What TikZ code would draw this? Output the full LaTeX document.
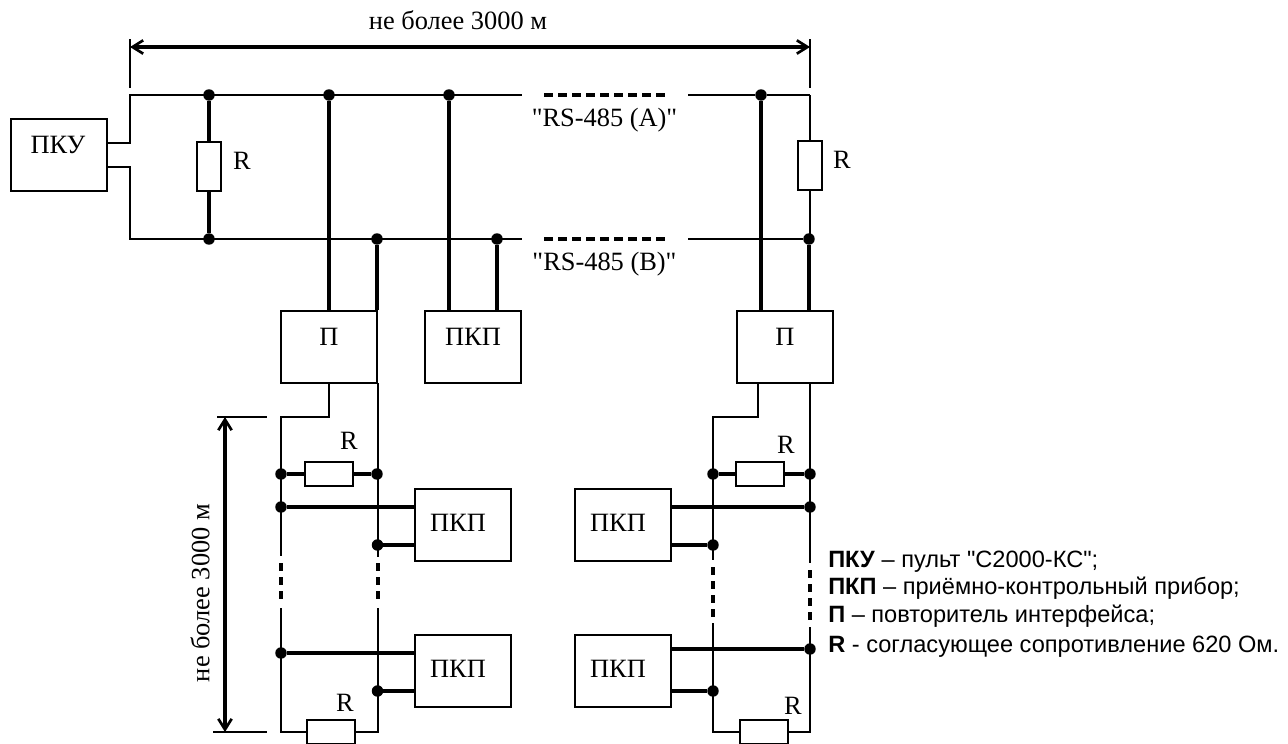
\documentclass[tikz,border=0pt]{standalone}
\usepackage{fontspec}
\newfontfamily\schemefont{Liberation Serif}
\newfontfamily\legendfont{Liberation Sans}
\usepackage{tikz}
\usetikzlibrary{arrows.meta}

\begin{document}
\begin{tikzpicture}[x=.75pt,y=-.75pt,
  wire/.style={line width=1.5pt},
  bold/.style={line width=3.3pt},
  dim/.style={line width=3pt,{Straight Barb[length=8pt,width=10pt,line width=2pt]}-{Straight Barb[length=8pt,width=10pt,line width=2pt]}},
  gapdash/.style={line width=2.4pt,dash pattern=on 6.75pt off 3.75pt},
  vdash/.style={line width=2.4pt,dash pattern=on 6pt off 4.5pt},
  box/.style={draw,line width=1.5pt,minimum width=72pt,minimum height=54pt,inner sep=0pt},
  res/.style={draw,fill=white,line width=1.5pt,minimum width=17.5pt,minimum height=36.5pt,inner sep=0pt},
  hres/.style={draw,fill=white,line width=1.5pt,minimum width=36.5pt,minimum height=17.5pt,inner sep=0pt},
  dot/.style={circle,fill=black,inner sep=0pt,outer sep=0pt,minimum size=8.6pt},
  txt/.style={inner sep=0pt,font=\schemefont\fontsize{19.8pt}{19.8pt}\selectfont},
  leg/.style={anchor=base west,inner sep=0pt,font=\legendfont\fontsize{17.7pt}{17.7pt}\selectfont}]
  \useasboundingbox (0,0) rectangle (1288,743);
  \clip (0,0) rectangle (1288,743);

  \coordinate (dl) at (130,47);
  \coordinate (dr) at (810,47);
  \coordinate (tl) at (130,39);
  \coordinate (tlb) at (130,88);
  \coordinate (tr) at (810,39);
  \coordinate (trb) at (810,88);
  \draw[dim] (dl) -- (dr);
  \draw[wire] (tl) -- (tlb);
  \draw[wire] (tr) -- (trb);
  \node[txt] (toplen) at (458,20) {не более 3000 м};

  \node[box] (pku) at (58.5,155) {};
  \node[txt] (pkutxt) at (58,145) {ПКУ};
  \coordinate (pkua) at (130,143);
  \coordinate (pkub) at (130,167);
  \coordinate (a0) at (130,95);
  \coordinate (b0) at (130,239);
  \coordinate (a1) at (522,95);
  \coordinate (b1) at (522,239);
  \coordinate (a2) at (544,95);
  \coordinate (b2) at (544,239);
  \coordinate (a3) at (665,95);
  \coordinate (b3) at (665,239);
  \coordinate (a4) at (688,95);
  \coordinate (b4) at (688,239);
  \coordinate (a5) at (810,95);
  \draw[wire] (pku.east |- pkua) -- (pkua) -- (a0) -- (a1);
  \draw[wire] (pku.east |- pkub) -- (pkub) -- (b0) -- (b1);
  \draw[gapdash] (a2) -- (a3);
  \draw[gapdash] (b2) -- (b3);
  \node[txt] (rsa) at (604.5,120) {"RS-485 (A)"};
  \node[txt] (rsb) at (604.5,264) {"RS-485 (B)"};

  \node[box] (p1) at (329,347) {};
  \node[txt] (p1txt) at (329,337) {П};
  \node[box] (k0) at (473,347) {};
  \node[txt] (k0txt) at (473,337) {ПКП};
  \node[box] (p2) at (785,347) {};
  \node[txt] (p2txt) at (785,337) {П};

  \node[res] (r1) at (209,166.5) {};
  \node[txt] (r1txt) at (242,161) {R};
  \node[dot] (ja1) at (209,95) {};
  \node[dot] (jb1) at (209,239) {};
  \draw[bold] (ja1) -- (r1);
  \draw[bold] (r1) -- (jb1);

  \node[dot] (ja2) at (329,95) {};
  \node[dot] (jb2) at (377,239) {};
  \node[dot] (ja3) at (449,95) {};
  \node[dot] (jb3) at (497,239) {};
  \node[dot] (ja4) at (761,95) {};
  \node[dot] (jb4) at (809,239) {};
  \draw[wire] (a4) -- (ja4) -- (a5);
  \draw[wire] (b4) -- (jb4);
  \draw[bold] (ja2) -- (ja2 |- p1.north);
  \draw[bold] (jb2) -- (jb2 |- p1.north);
  \draw[bold] (ja3) -- (ja3 |- k0.north);
  \draw[bold] (jb3) -- (jb3 |- k0.north);
  \draw[bold] (ja4) -- (ja4 |- p2.north);
  \draw[bold] (jb4) -- (jb4 |- p2.north);

  \node[res] (r2) at (810,165.5) {};
  \node[txt] (r2txt) at (842,160) {R};
  \draw[wire] (a5) -- (r2);
  \draw[wire] (r2) -- (r2 |- jb4);

  \coordinate (ll0) at (281,417);
  \coordinate (ll1) at (281,556);
  \coordinate (ll2) at (281,563);
  \coordinate (ll3) at (281,599);
  \coordinate (ll4) at (281,608);
  \coordinate (ll5) at (281,732);
  \coordinate (lr1) at (378,557);
  \coordinate (lr2) at (378,563);
  \coordinate (lr3) at (378,599);
  \coordinate (lr4) at (378,608);
  \coordinate (lr5) at (378,732);
  \coordinate (lu) at (329,417);
  \coordinate (lv) at (378,383);
  \draw[wire] (p1.south -| lu) -- (lu) -- (ll0) -- (ll1);
  \draw[wire] (lv) -- (lr1);
  \draw[vdash] (ll2) -- (ll3);
  \draw[vdash] (lr2) -- (lr3);
  \draw[wire] (ll4) -- (ll5) -- (lr5) -- (lr4);

  \node[hres] (r3) at (329,474) {};
  \node[txt] (r3txt) at (349,441) {R};
  \node[dot] (jl1) at (281,474) {};
  \node[dot] (jr1) at (377,474) {};
  \draw[bold] (jl1) -- (r3);
  \draw[bold] (r3) -- (jr1);

  \node[box] (k1) at (463,525) {};
  \node[txt] (k1txt) at (458,523) {ПКП};
  \node[dot] (jl2) at (281,507) {};
  \node[dot] (jr2) at (377.5,545) {};
  \draw[bold] (jl2) -- (k1.west |- jl2);
  \draw[bold] (jr2) -- (k1.west |- jr2);

  \node[box] (k2) at (463,671) {};
  \node[txt] (k2txt) at (458,669) {ПКП};
  \node[dot] (jl3) at (281,653) {};
  \node[dot] (jr3) at (377.5,691) {};
  \draw[bold] (jl3) -- (k2.west |- jl3);
  \draw[bold] (jr3) -- (k2.west |- jr3);

  \node[hres] (r4) at (331,732) {};
  \node[txt] (r4txt) at (345,703) {R};

  \coordinate (vt) at (225,417);
  \coordinate (vb) at (225,732);
  \coordinate (vtl) at (217,417);
  \coordinate (vtr) at (267,417);
  \coordinate (vbl) at (213,732);
  \coordinate (vbr) at (267,732);
  \draw[dim] (vt) -- (vb);
  \draw[wire] (vtl) -- (vtr);
  \draw[wire] (vbl) -- (vbr);
  \node[txt,rotate=90] (sidelen) at (200,593) {не более 3000 м};

  \coordinate (ml0) at (713,417);
  \coordinate (ml1) at (713,560);
  \coordinate (ml2) at (713,567);
  \coordinate (ml3) at (713,617);
  \coordinate (ml4) at (713,623);
  \coordinate (ml5) at (713,732);
  \coordinate (mr1) at (810,563);
  \coordinate (mr2) at (810,570);
  \coordinate (mr3) at (810,620);
  \coordinate (mr4) at (810,627);
  \coordinate (mr5) at (810,732);
  \coordinate (mu) at (758,417);
  \coordinate (mv) at (810,383);
  \draw[wire] (p2.south -| mu) -- (mu) -- (ml0) -- (ml1);
  \draw[wire] (mv) -- (mr1);
  \draw[vdash] (ml2) -- (ml3);
  \draw[vdash] (mr2) -- (mr3);
  \draw[wire] (ml4) -- (ml5) -- (mr5) -- (mr4);

  \node[hres] (r5) at (760,474) {};
  \node[txt] (r5txt) at (786,445) {R};
  \node[dot] (jm1) at (713,474) {};
  \node[dot] (jn1) at (810,474) {};
  \draw[bold] (jm1) -- (r5);
  \draw[bold] (r5) -- (jn1);

  \node[box] (k3) at (623,525) {};
  \node[txt] (k3txt) at (618,523) {ПКП};
  \node[dot] (jn2) at (810,507) {};
  \node[dot] (jm2) at (713,545) {};
  \draw[bold] (jn2) -- (k3.east |- jn2);
  \draw[bold] (jm2) -- (k3.east |- jm2);

  \node[box] (k4) at (623,671) {};
  \node[txt] (k4txt) at (618,669) {ПКП};
  \node[dot] (jn3) at (810,649) {};
  \node[dot] (jm3) at (713,691) {};
  \draw[bold] (jn3) -- (k4.east |- jn3);
  \draw[bold] (jm3) -- (k4.east |- jm3);

  \node[hres] (r6) at (764,732) {};
  \node[txt] (r6txt) at (793,706) {R};

  \node[leg] (leg1) at (828,567) {\textbf{ПКУ} – пульт "С2000-КС";};
  \node[leg] (leg2) at (828,594) {\textbf{ПКП} – приёмно-контрольный прибор;};
  \node[leg] (leg3) at (828,622) {\textbf{П} – повторитель интерфейса;};
  \node[leg] (leg4) at (828,652) {\textbf{R} - согласующее сопротивление 620 Ом.};
\end{tikzpicture}
\end{document}
